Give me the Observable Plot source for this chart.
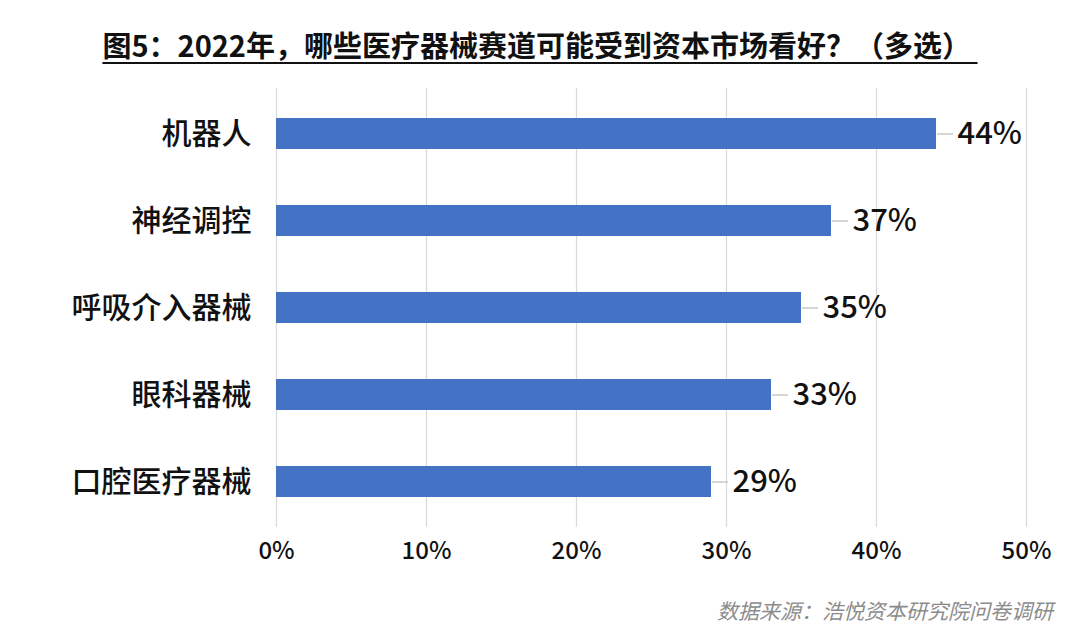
<!DOCTYPE html>
<html>
<head>
<meta charset="utf-8">
<script src="https://cdn.jsdelivr.net/npm/d3@7"></script>
<script src="https://cdn.jsdelivr.net/npm/@observablehq/plot@0.6"></script>
<style>
  html, body { margin: 0; padding: 0; background: #fff; }
  body { width: 1080px; height: 638px; position: relative; overflow: hidden;
         font-family: "Noto Sans CJK SC", "Noto Sans", sans-serif; }
  #title { position: absolute; left: 0; top: 25px; width: 1080px; text-align: center;
           font-size: 29px; font-weight: 700; color: #111; line-height: 38px;
           text-decoration: underline; text-underline-offset: 5px; text-decoration-thickness: 2px; }
  #chart { position: absolute; left: 0; top: 0; }
  #source { position: absolute; right: 27px; top: 596px; font-size: 21px; color: #8c8c8c;
            font-style: italic; line-height: 28px; }
</style>
</head>
<body>
<div id="chart"></div>
<div id="title">图5：2022年，哪些医疗器械赛道可能受到资本市场看好？（多选）&nbsp;</div>
<div id="source">数据来源：浩悦资本研究院问卷调研</div>
<script>
const categories = ["机器人", "神经调控", "呼吸介入器械", "眼科器械", "口腔医疗器械"];
const values = [44, 37, 35, 33, 29];
const ticks = [0, 10, 20, 30, 40, 50];

const data = categories.map((c, i) => ({cat: c, value: values[i]}));

const plot = Plot.plot({
  width: 1080,
  height: 638,
  marginLeft: 276,
  marginRight: 54,
  marginTop: 88,
  marginBottom: 111,
  style: {fontFamily: '"Noto Sans CJK SC", "Noto Sans", sans-serif', background: "transparent"},
  x: {domain: [0, 50], ticks: ticks, tickFormat: d => d + "%", label: null},
  y: {domain: categories, padding: 0, label: null},
  marks: [
    Plot.gridX(ticks, {stroke: "#d9d9d9", strokeOpacity: 1, strokeWidth: 1.2}),
    Plot.axisX({ticks: ticks, tickFormat: d => d + "%", tickSize: 0, tickPadding: 14, fontSize: 24, fontWeight: 500, fill: "#111", label: null}),
    Plot.axisY({tickSize: 0, tickPadding: 25, fontSize: 30, fontWeight: 500, fill: "#111", label: null}),
    Plot.barX(data, {y: "cat", x: "value", fill: "#4472C4", insetTop: 28, insetBottom: 28}),
    Plot.ruleY(data, {y: "cat", x1: "value", x2: "value", insetLeft: 1, insetRight: -17, stroke: "#c8c8c8", strokeWidth: 1.5}),
    Plot.text(data, {y: "cat", x: "value", text: d => d.value + "%", dx: 21, textAnchor: "start", fontSize: 31, fontWeight: 500, fill: "#111"})
  ]
});
document.getElementById("chart").appendChild(plot);
</script>
</body>
</html>
